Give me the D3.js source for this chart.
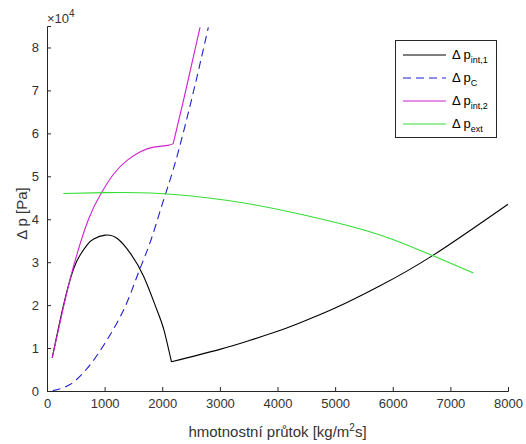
<!DOCTYPE html>
<html><head><meta charset="utf-8">
<script src="https://cdn.jsdelivr.net/npm/d3@7"></script>
<style>body{margin:0;background:#fff;} svg{display:block;font-family:"Liberation Sans",Arial,sans-serif;}</style>
</head><body><svg id="c" width="526" height="444"></svg>
<script>
const xTicks = [0,1000,2000,3000,4000,5000,6000,7000,8000];
const yTicks = [0,10000,20000,30000,40000,50000,60000,70000,80000];
const yTickLabels = ["0","1","2","3","4","5","6","7","8"];

// Δp int,1 (corner at its minimum)
const int1X = [90,290,460,580,700,810,1010,1220,1450,1680,1910,2030,2160,3000,3500,4000,4450,5000,5780,6710,8000];
const int1Y = [7700,20200,28400,31800,34100,35400,36300,35500,32000,26600,18800,14200,6800,9700,11700,13900,16200,19300,24500,31700,43500];
const int1Corner = 2160;

// Δp C
const cX = [100,200,400,600,800,1000,1200,1400,1600,1800,2000,2200,2400,2600,2800];
const cY = [100,400,1500,3800,7000,11000,15500,21000,28000,35000,43500,52000,62000,73000,84700];

// Δp int,2 (corner at end of plateau)
const int2X = [90,290,460,720,955,1160,1390,1620,1850,2100,2190,2374,2656];
const int2Y = [7700,19800,29000,40000,46400,50600,53700,55700,56800,57200,57600,68000,84700];
const int2Corner = 2190;

// Δp ext
const extX = [283,1000,1800,2770,3500,4220,5200,6000,6680,7400];
const extY = [46000,46200,46100,45000,43600,41700,38600,35300,31600,27500];

const series = [
  {name:"int,1", x:int1X, y:int1Y, corner:int1Corner, color:"#000000", dash:null},
  {name:"C", x:cX, y:cY, corner:null, color:"#1f1fd0", dash:"8,5"},
  {name:"int,2", x:int2X, y:int2Y, corner:int2Corner, color:"#d020d0", dash:null},
  {name:"ext", x:extX, y:extY, corner:null, color:"#33dd33", dash:null}
];

const svg = d3.select("#c");
const L=47, R=508, T=26, B=391;
const x = d3.scaleLinear().domain([0,8000]).range([L,R]);
const y = d3.scaleLinear().domain([0,85000]).range([B,T]);
const axisCol = "#262626";

svg.append("defs").append("clipPath").attr("id","clip")
  .append("rect").attr("x",L).attr("y",T-2).attr("width",R-L+2).attr("height",B-T+2);

const line = d3.line().x(d=>x(d[0])).y(d=>y(d[1])).curve(d3.curveNatural);
const g = svg.append("g").attr("clip-path","url(#clip)");
series.forEach(s=>{
  const pts = s.x.map((v,i)=>[v,s.y[i]]);
  let segs = [pts];
  if (s.corner!==null){
    const k = s.x.indexOf(s.corner);
    segs = [pts.slice(0,k+1), pts.slice(k)];
  }
  const d = segs.map(sg=>line(sg)).join("");
  g.append("path").attr("d",d).attr("fill","none")
    .attr("stroke",s.color).attr("stroke-width",1.1)
    .attr("stroke-linejoin","round")
    .attr("stroke-dasharray",s.dash);
});

// x axis
const xa = svg.append("g").attr("transform",`translate(0,${B})`)
  .call(d3.axisBottom(x).tickValues(xTicks).tickSize(-4).tickPadding(8).tickFormat(d3.format("d")));
// y axis
const ya = svg.append("g").attr("transform",`translate(${L},0)`)
  .call(d3.axisLeft(y).tickValues(yTicks).tickSize(-4).tickPadding(8).tickFormat((d,i)=>yTickLabels[i]));
[xa,ya].forEach(a=>{
  a.select(".domain").attr("stroke",axisCol).attr("stroke-width",1);
  a.selectAll(".tick line").attr("stroke",axisCol);
  a.selectAll(".tick text").attr("fill","#333").style("font-size","13px").style("font-family","Liberation Sans, Arial, sans-serif");
});

// exponent
const ex = svg.append("text").attr("x",47).attr("y",23).attr("fill","#333").style("font-size","13px");
ex.append("tspan").text("×10");
ex.append("tspan").attr("dy",-6).style("font-size","10px").text("4");

// axis labels
const xl = svg.append("text").attr("x",(L+R)/2).attr("y",437).attr("text-anchor","middle").attr("fill","#333").style("font-size","15px");
xl.append("tspan").text("hmotnostní průtok [kg/m");
xl.append("tspan").attr("dy",-6).style("font-size","10px").text("2");
xl.append("tspan").attr("dy",6).text("s]");

svg.append("text").attr("transform",`translate(27,${(T+B)/2+5}) rotate(-90)`)
  .attr("text-anchor","middle").attr("fill","#333").style("font-size","15px").text("Δ p [Pa]");

// legend
const lg = svg.append("g");
lg.append("rect").attr("x",395.5).attr("y",40.5).attr("width",101).attr("height",97)
  .attr("fill","#fff").attr("stroke",axisCol).attr("stroke-width",1);
const rowsY = [55,78,101,124];
series.forEach((s,i)=>{
  const yy = rowsY[i];
  lg.append("line").attr("x1",403).attr("x2",446).attr("y1",yy).attr("y2",yy)
    .attr("stroke",s.color).attr("stroke-width",1.1).attr("stroke-dasharray",s.dash);
  const t = lg.append("text").attr("x",452).attr("y",yy+4).attr("fill","#000").style("font-size","13px");
  t.append("tspan").text("Δ p");
  t.append("tspan").attr("dy",4).style("font-size","9px").text(s.name);
});
</script></body></html>
